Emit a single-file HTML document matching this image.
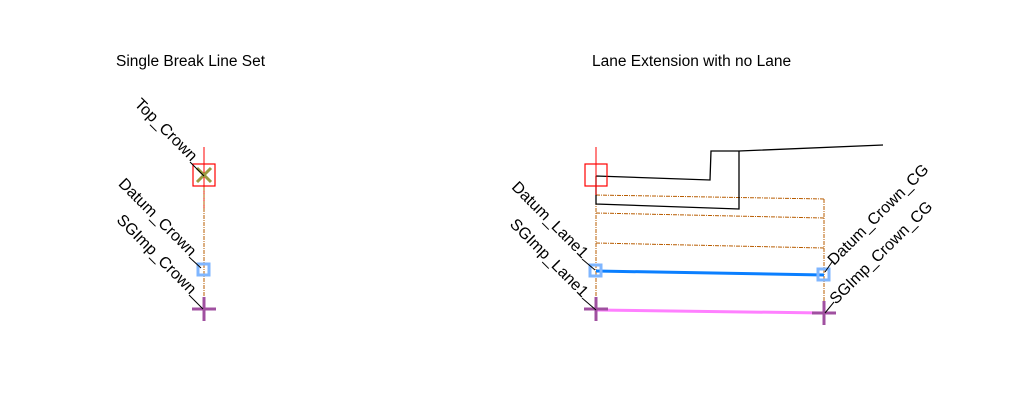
<!DOCTYPE html>
<html><head><style>body{margin:0;background:#fff}svg{display:block}text{font-family:"Liberation Sans",sans-serif;font-size:16px;fill:#000}</style></head><body>
<svg width="1031" height="400" xmlns="http://www.w3.org/2000/svg">
<text x="116" y="66" style="font-size:15.5px">Single Break Line Set</text>
<text x="592" y="66" style="font-size:15.5px">Lane Extension with no Lane</text>
<!-- left -->
<line x1="204" y1="147" x2="204" y2="208" stroke="#f00" stroke-width="1"/>
<line x1="204" y1="187" x2="204" y2="309" stroke="#b85c00" stroke-width="1" stroke-dasharray="4,1,1,1"/>
<rect x="193" y="164" width="22" height="22" fill="none" stroke="#f00" stroke-width="1.2"/>
<path d="M197 168L211 182M211 168L197 182" stroke="#9a9a40" stroke-width="3"/>
<rect x="198" y="264" width="11" height="11" fill="none" stroke="#7fb6ff" stroke-width="3"/>
<path d="M192 309H216M204 297V321" stroke="#a050a0" stroke-width="3"/>
<path d="M190 162L204 176M189 257L201 268M189 295L203 309" stroke="#000" stroke-width="1"/>
<text transform="translate(191,162) rotate(45)" text-anchor="end">Top_Crown</text>
<text transform="translate(190,257) rotate(45)" text-anchor="end">Datum_Crown</text>
<text transform="translate(190,295) rotate(45)" text-anchor="end">SGImp_Crown</text>
<!-- right -->
<g stroke="#b85c00" stroke-width="1" fill="none" stroke-dasharray="4,1,1,1">
<line x1="596" y1="187" x2="596" y2="318"/>
<line x1="824" y1="199" x2="824" y2="318"/>
<path d="M596 195L824 199M596 213L824 218M596 243L824 248"/>
</g>
<path d="M596 176L710 180L711 151L739 151L883 145M739 151L739 209L596 204L596 176" stroke="#000" stroke-width="1.3" fill="none"/>
<line x1="596" y1="147" x2="596" y2="195" stroke="#f00" stroke-width="1"/>
<rect x="585" y="164" width="22" height="22" fill="none" stroke="#f00" stroke-width="1.2"/>
<line x1="596" y1="271" x2="824" y2="275" stroke="#0a7fff" stroke-width="3"/>
<line x1="596" y1="310" x2="824" y2="313" stroke="#ff80ff" stroke-width="3"/>
<rect x="590" y="265" width="11" height="11" fill="none" stroke="#7fb6ff" stroke-width="3"/>
<rect x="818" y="269" width="11" height="11" fill="none" stroke="#7fb6ff" stroke-width="3"/>
<path d="M584 309H608M596 297V321" stroke="#a050a0" stroke-width="3"/>
<path d="M812 313H836M824 301V325" stroke="#a050a0" stroke-width="3"/>
<path d="M582 259L595 270M582 298L596 310M832 262L825 272M834 302L825 313" stroke="#000" stroke-width="1"/>
<text transform="translate(582,259) rotate(45)" text-anchor="end">Datum_Lane1</text>
<text transform="translate(582,298) rotate(45)" text-anchor="end">SGImp_Lane1</text>
<text transform="translate(834,266) rotate(-45)">Datum_Crown_CG</text>
<text transform="translate(836,305) rotate(-45)">SGImp_Crown_CG</text>
</svg>
</body></html>
